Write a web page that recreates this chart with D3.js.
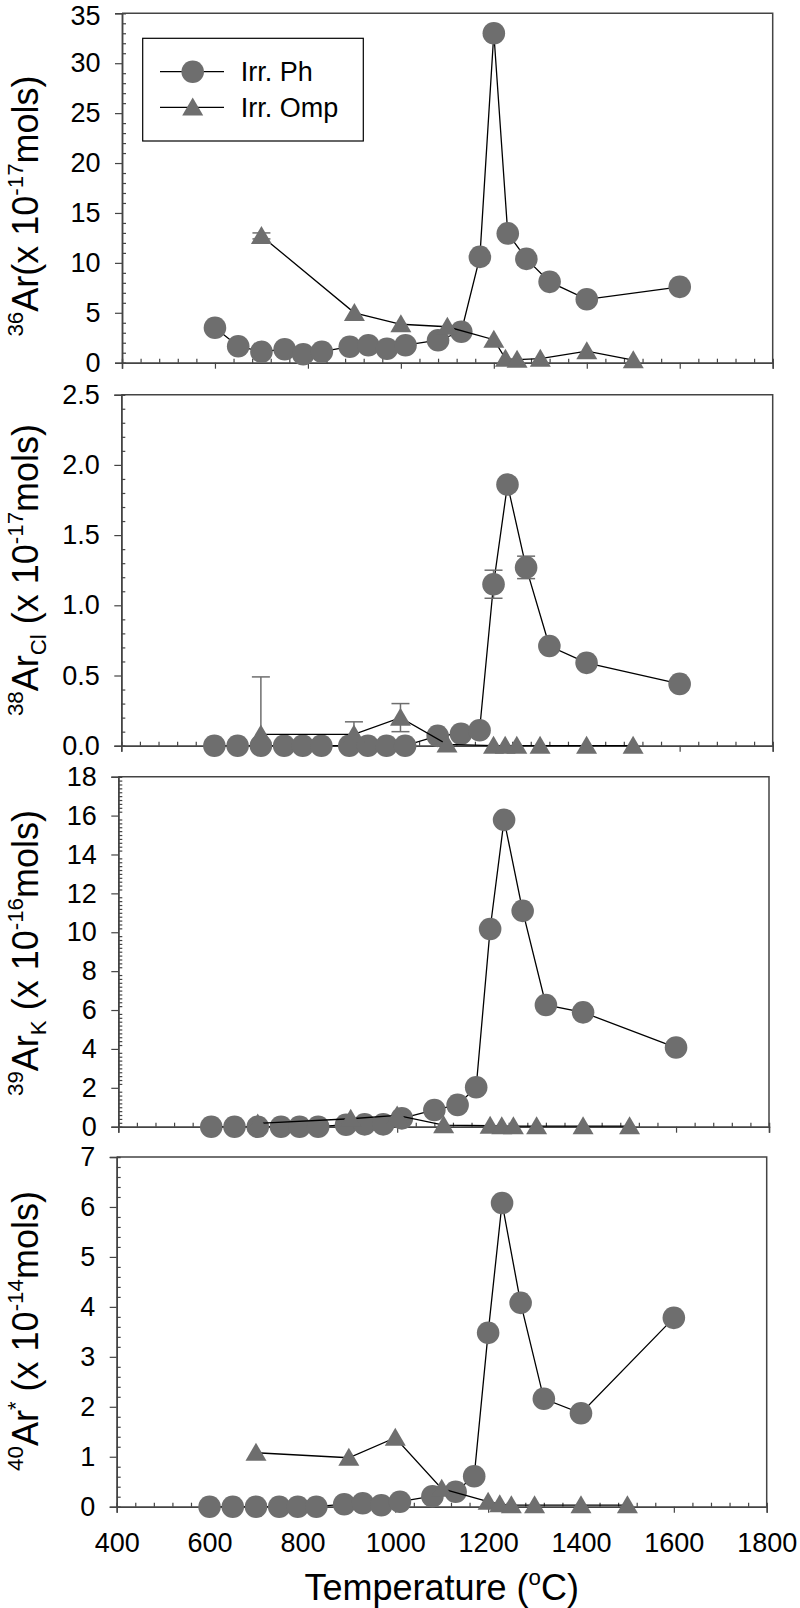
<!DOCTYPE html>
<html><head><meta charset="utf-8">
<script src="https://cdn.jsdelivr.net/npm/d3@7"></script>
<style>
html,body{margin:0;padding:0;background:#fff;}
svg text{font-family:"Liberation Sans",Arial,sans-serif;fill:#000;}
</style></head>
<body>
<svg id="chart" width="800" height="1608"></svg>
<script>
// ---- data ----
const phTemps  = [600,650,700,750,790,830,890,930,970,1010,1080,1130,1170,1200,1230,1270,1320,1400,1600];
const ompTemps = [700,900,1000,1100,1200,1225,1250,1300,1400,1500];

const ar36Ph  = [3.5,1.65,1.1,1.35,0.85,1.1,1.6,1.75,1.4,1.75,2.25,3.1,10.6,33.0,12.95,10.4,8.1,6.35,7.6];
const ar36Omp = [12.7,5.0,3.85,3.6,2.3,0.4,0.3,0.4,1.15,0.25];
const ar36OmpErr = [0.3,0,0,0,0,0,0,0,0,0];

const ar38Ph  = [0,0,0,0,0,0,0,0,0,0,0.07,0.085,0.11,1.15,1.86,1.27,0.71,0.59,0.44];
const ar38PhErr = [0,0,0,0,0,0,0,0,0,0,0,0,0,0.1,0,0.08,0,0,0];
const ar38Omp = [0.08,0.08,0.2,0.01,0,0,0,0,0,0];
const ar38OmpErr = [0.41,0.09,0.1,0,0,0,0,0,0,0];

const ar39Ph  = [0,0,0,0,0,0,0.1,0.12,0.12,0.43,0.86,1.12,2.03,10.17,15.78,11.1,6.26,5.88,4.07];
const ar39Omp = [0.17,0.41,0.58,0.08,0.05,0.03,0.03,0.03,0.03,0.03];

const ar40Ph  = [0,0,0,0,0,0,0.05,0.07,0.03,0.1,0.21,0.3,0.61,3.48,6.08,4.08,2.16,1.87,3.78];
const ar40Omp = [1.08,0.98,1.38,0.36,0.1,0.05,0.03,0.03,0.03,0.03];

const xTicks = [400,600,800,1000,1200,1400,1600,1800];
const legendLabels = ["Irr. Ph","Irr. Omp"];

const panels = [
  {top:13.3, bottom:362.7, left:122, right:772.7, ymax:35, ystep:5, yminor:1, fmt:d=>String(d),
   ph:ar36Ph, omp:ar36Omp, phErr:null, ompErr:ar36OmpErr, labelY:206,
   label:[["36","sup"],["Ar(x 10",""],["-17","sup"],["mols)",""]], legend:true},
  {top:394.7, bottom:745.7, left:121.3, right:772.7, ymax:2.5, ystep:0.5, yminor:0.1, fmt:d3.format(".1f"),
   ph:ar38Ph, omp:ar38Omp, phErr:ar38PhErr, ompErr:ar38OmpErr, labelY:570,
   label:[["38","sup"],["Ar",""],["Cl","sub"],[" (x 10",""],["-17","sup"],["mols)",""]]},
  {top:776.7, bottom:1126.7, left:118.3, right:769, ymax:18, ystep:2, yminor:0.2, fmt:d=>String(d),
   ph:ar39Ph, omp:ar39Omp, phErr:null, ompErr:null, labelY:953,
   label:[["39","sup"],["Ar",""],["K","sub"],[" (x 10",""],["-16","sup"],["mols)",""]]},
  {top:1157, bottom:1506.7, left:116.7, right:766.7, ymax:7, ystep:1, yminor:0.2, fmt:d=>String(d),
   ph:ar40Ph, omp:ar40Omp, phErr:null, ompErr:null, labelY:1331,
   label:[["40","sup"],["Ar",""],["*","sup"],["  (x 10",""],["-14","sup"],["mols)",""]], xlabels:true}
];

const svg = d3.select("#chart");
const markerFill = "#6e6e6e";
const axisColor = "#444";
const R = 11.3;
const triW = 21, triH = 18;

function triPath(cx, cy){
  return `M${cx},${cy - triH*0.55}L${cx + triW/2},${cy + triH*0.45}L${cx - triW/2},${cy + triH*0.45}Z`;
}

function richText(sel, parts, size){
  const supSize = size*0.62;
  let cur = 0;
  parts.forEach(([t, kind])=>{
    let target = 0, fs = size;
    if(kind==="sup"){ target = -size*0.42; fs = supSize; }
    if(kind==="sub"){ target = size*0.22; fs = supSize; }
    sel.append("tspan").attr("dy", target - cur).attr("font-size", fs).text(t);
    cur = target;
  });
}

panels.forEach((p, i)=>{
  const g = svg.append("g");
  const x = d3.scaleLinear().domain([400,1800]).range([p.left, p.right]);
  const y = d3.scaleLinear().domain([0,p.ymax]).range([p.bottom, p.top]);

  g.append("path").attr("d", `M${p.left},${p.top}H${p.right}V${p.bottom}`)
    .attr("fill","none").attr("stroke", axisColor).attr("stroke-width",1.5);

  g.append("g").attr("transform",`translate(0,${p.bottom})`)
    .call(d3.axisBottom(x).tickValues(xTicks).tickSize(6).tickPadding(20)
      .tickFormat(p.xlabels ? d3.format("d") : ()=>""));
  const xMinorVals = d3.range(400, 1801, 40).filter(v=>v%200!==0);
  g.append("g").attr("transform",`translate(0,${p.bottom})`)
    .call(d3.axisBottom(x).tickValues(xMinorVals).tickSize(-4).tickFormat(()=>""));

  const yMajorVals = d3.range(0, p.ymax + 1e-9, p.ystep).map(v=>+v.toFixed(3));
  const yAx = g.append("g").attr("transform",`translate(${p.left},0)`)
    .call(d3.axisLeft(y).tickValues(yMajorVals).tickSize(7).tickPadding(14.5).tickFormat(p.fmt));
  const nMinor = Math.round(p.ymax / p.yminor);
  const yMinorVals = d3.range(0, nMinor+1).map(k=>+(k*p.yminor).toFixed(3))
      .filter(v=> Math.abs(v/p.ystep - Math.round(v/p.ystep)) > 1e-6);
  g.append("g").attr("transform",`translate(${p.left},0)`)
    .call(d3.axisLeft(y).tickValues(yMinorVals).tickSize(-4).tickFormat(()=>""));

  g.selectAll(".domain").attr("stroke", axisColor).attr("stroke-width",1.5);
  g.selectAll(".tick line").attr("stroke", axisColor).attr("stroke-width",1.2);
  g.selectAll(".tick text").attr("font-size", 27).attr("fill","#000")
    .style("font-family","'Liberation Sans', Arial, sans-serif");
  if(i===0){
    // keep the top tick label inside the page
    yAx.selectAll(".tick text").filter(d=>d===p.ymax).attr("dy","0.42em");
  }

  const lbl = g.append("text")
    .attr("transform", `translate(38,${p.labelY}) rotate(-90)`)
    .attr("text-anchor","middle");
  richText(lbl, p.label, 36);

  const plot = g.append("g");
  const line = d3.line().x(d=>x(d[0])).y(d=>y(d[1]));

  function errBars(data, errs){
    data.forEach((d,k)=>{
      const e = errs[k]; if(!e) return;
      const cx = x(d[0]);
      const segs = [[d[1], d[1]+e]];
      if(d[1]-e >= 0) segs.push([d[1], d[1]-e]);
      segs.forEach(([a,b])=>{
        plot.append("line").attr("x1",cx).attr("x2",cx).attr("y1",y(a)).attr("y2",y(b))
          .attr("stroke",markerFill).attr("stroke-width",1.5);
        plot.append("line").attr("x1",cx-9).attr("x2",cx+9).attr("y1",y(b)).attr("y2",y(b))
          .attr("stroke",markerFill).attr("stroke-width",1.5);
      });
    });
  }

  const phData = phTemps.map((t,k)=>[t, p.ph[k]]);
  plot.append("path").datum(phData).attr("d", line).attr("fill","none")
    .attr("stroke","#000").attr("stroke-width",1.3);
  if(p.phErr) errBars(phData, p.phErr);
  plot.selectAll(".ph").data(phData).enter().append("circle")
    .attr("cx", d=>x(d[0])).attr("cy", d=>y(d[1])).attr("r", R).attr("fill", markerFill);

  const ompData = ompTemps.map((t,k)=>[t, p.omp[k]]);
  plot.append("path").datum(ompData).attr("d", line).attr("fill","none")
    .attr("stroke","#000").attr("stroke-width",1.3);
  if(p.ompErr) errBars(ompData, p.ompErr);
  plot.selectAll(".omp").data(ompData).enter().append("path")
    .attr("d", d=>triPath(x(d[0]), y(d[1]))).attr("fill", markerFill);

  if(p.xlabels){
    const xt = g.append("text").attr("x", (p.left+p.right)/2).attr("y", 1600)
      .attr("text-anchor","middle");
    richText(xt, [["Temperature (",""],["o","sup"],["C)",""]], 36);
  }

  if(p.legend){
    const lg = g.append("g");
    lg.append("rect").attr("x",142.7).attr("y",38.3).attr("width",220.6).attr("height",102.7)
      .attr("fill","#fff").attr("stroke","#000").attr("stroke-width",1.2);
    const rows = [71.7, 107.3];
    legendLabels.forEach((lab, k)=>{
      const ry = rows[k];
      lg.append("line").attr("x1",160).attr("x2",224).attr("y1",ry).attr("y2",ry)
        .attr("stroke","#000").attr("stroke-width",1.3);
      if(k===0) lg.append("circle").attr("cx",192.7).attr("cy",ry).attr("r",R).attr("fill",markerFill);
      else lg.append("path").attr("d", triPath(192.7, ry)).attr("fill",markerFill);
      lg.append("text").attr("x",240.7).attr("y",ry).attr("dy","0.36em")
        .attr("font-size",27).text(lab);
    });
  }
});
</script>
</body></html>
